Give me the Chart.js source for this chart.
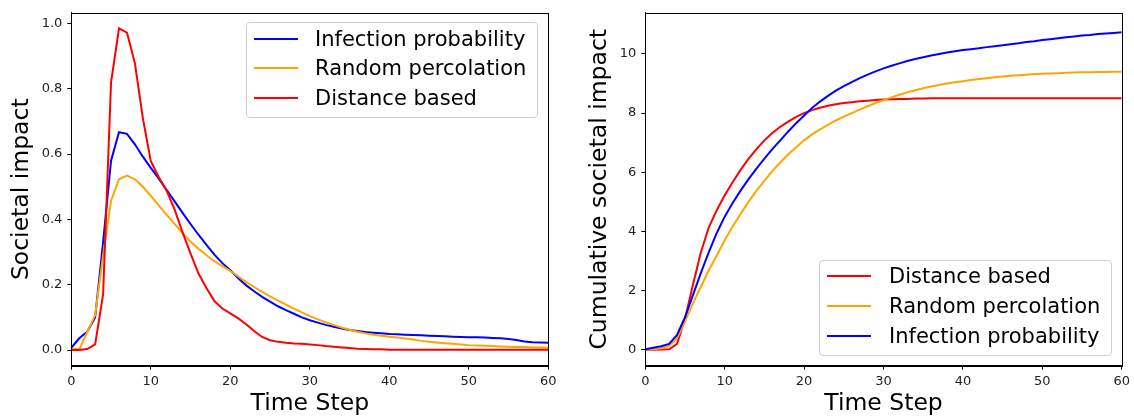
<!DOCTYPE html>
<html><head><meta charset="utf-8">
<script src="https://cdn.jsdelivr.net/npm/chart.js@4/dist/chart.umd.min.js"></script>
<style>
html,body{margin:0;padding:0;background:#fff;}
body{width:1134px;height:420px;overflow:hidden;position:relative;font-family:"DejaVu Sans",sans-serif;}
canvas{position:absolute;top:0;}
.legend{position:absolute;background:rgba(255,255,255,0.8);border:1px solid #d0d0d0;border-radius:4px;box-sizing:border-box;font-family:"DejaVu Sans",sans-serif;font-size:21px;color:#000;}
.row{position:absolute;left:0;right:0;height:30px;}
.sw{position:absolute;height:2px;top:14px;}
.lbl{position:absolute;top:0;line-height:30px;white-space:nowrap;}
</style>
</head><body>
<canvas id="c1" width="567" height="420" style="left:0px"></canvas>
<canvas id="c2" width="567" height="420" style="left:567px"></canvas>
<script>
const steps = [0,1,2,3,4,5,6,7,8,9,10,11,12,13,14,15,16,17,18,19,20,21,22,23,24,25,26,27,28,29,30,31,32,33,34,35,36,37,38,39,40,41,42,43,44,45,46,47,48,49,50,51,52,53,54,55,56,57,58,59,60];
const xTicks = [0,10,20,30,40,50,60];
const yTicksLeft = [0,0.2,0.4,0.6,0.8,1.0];
const yTicksRight = [0,2,4,6,8,10];

const impactInfection = [0.007,0.036,0.056,0.100,0.330,0.580,0.667,0.662,0.630,0.592,
 0.558,0.525,0.490,0.455,0.420,0.386,0.353,0.322,0.292,0.266,
 0.244,0.220,0.198,0.180,0.163,0.148,0.134,0.122,0.111,0.100,
 0.091,0.084,0.077,0.071,0.066,0.061,0.058,0.055,0.053,0.051,
 0.049,0.048,0.047,0.046,0.045,0.044,0.043,0.042,0.041,0.040,
 0.039,0.039,0.038,0.037,0.036,0.034,0.031,0.026,0.024,0.023,0.022];
const impactRandom = [0.004,0.002,0.055,0.107,0.290,0.457,0.523,0.534,0.523,0.500,
 0.472,0.443,0.414,0.386,0.358,0.332,0.310,0.290,0.272,0.257,
 0.242,0.225,0.208,0.193,0.178,0.164,0.151,0.139,0.127,0.115,
 0.104,0.094,0.085,0.077,0.069,0.062,0.056,0.051,0.047,0.044,
 0.041,0.038,0.035,0.032,0.028,0.025,0.023,0.021,0.019,0.017,
 0.015,0.014,0.013,0.012,0.011,0.010,0.009,0.009,0.008,0.008,0.007];
const impactDistance = [0,0,0.003,0.017,0.170,0.820,0.985,0.972,0.878,0.710,
 0.578,0.530,0.487,0.430,0.360,0.295,0.234,0.190,0.150,0.127,
 0.112,0.097,0.079,0.058,0.040,0.030,0.025,0.022,0.020,0.019,
 0.017,0.015,0.012,0.010,0.008,0.006,0.004,0.003,0.002,0.002,
 0.001,0.001,0.001,0.001,0.001,0.001,0.001,0.001,0.001,0.001,
 0.001,0.001,0.001,0.001,0.001,0.001,0.001,0.001,0.001,0.001,0.001];

const cumInfection = [0.02,0.07,0.12,0.20,0.50,1.10,1.85,2.60,3.30,3.95,
 4.50,4.96,5.38,5.77,6.12,6.46,6.78,7.08,7.38,7.66,
 7.92,8.17,8.39,8.58,8.76,8.91,9.05,9.18,9.30,9.41,
 9.51,9.60,9.68,9.76,9.83,9.89,9.95,10.00,10.05,10.09,
 10.13,10.16,10.19,10.23,10.26,10.29,10.33,10.36,10.40,10.43,
 10.47,10.50,10.53,10.56,10.59,10.62,10.64,10.67,10.69,10.71,10.73];
const cumRandom = [0,0.02,0.05,0.13,0.39,0.95,1.57,2.13,2.69,3.19,
 3.70,4.17,4.59,5.00,5.38,5.71,6.05,6.33,6.61,6.85,
 7.08,7.28,7.45,7.60,7.75,7.88,8.00,8.12,8.23,8.34,
 8.44,8.53,8.62,8.70,8.77,8.84,8.90,8.95,9.00,9.04,
 9.08,9.12,9.15,9.18,9.21,9.24,9.26,9.28,9.30,9.32,
 9.33,9.34,9.35,9.36,9.37,9.38,9.38,9.39,9.39,9.40,9.40];
const cumDistance = [0,0,0.01,0.02,0.20,1.05,2.20,3.30,4.14,4.72,
 5.22,5.66,6.08,6.45,6.78,7.08,7.33,7.54,7.71,7.87,
 8.00,8.10,8.18,8.25,8.30,8.34,8.37,8.40,8.42,8.44,
 8.46,8.47,8.48,8.48,8.49,8.49,8.50,8.50,8.50,8.50,
 8.50,8.50,8.50,8.50,8.50,8.50,8.50,8.50,8.50,8.50,
 8.50,8.50,8.50,8.50,8.50,8.50,8.50,8.50,8.50,8.50,8.50];

const labelInfection = 'Infection probability';
const labelRandom = 'Random percolation';
const labelDistance = 'Distance based';
const colInfection = '#0000ff', colRandom = '#ffa500', colDistance = '#ff0000';

const FONT = 'DejaVu Sans';

function ds(label, vals, color, order) {
  return { label, data: steps.map((t, i) => ({ x: t, y: vals[i] })), borderColor: color,
    backgroundColor: color, borderWidth: 2, pointRadius: 0, tension: 0, fill: false, order };
}

const framePlugin = {
  id: 'frame',
  afterDraw(chart) {
    const { ctx, chartArea: a } = chart;
    ctx.save();
    ctx.strokeStyle = '#000';
    ctx.lineWidth = 1;
    ctx.strokeRect(Math.round(a.left) + 0.5, Math.round(a.top) + 0.5,
      Math.round(a.right) - Math.round(a.left), Math.round(a.bottom) - Math.round(a.top));
    ctx.restore();
  }
};

function makeChart(id, datasets, yMin, yMax, yTicks, fmt, yTitle, yAxisWidth, padRight, yTitlePad) {
  const tickFont = { family: FONT, size: 13 };
  const titleFont = { family: FONT, size: 23.5 };
  const grid = { drawOnChartArea: false, drawTicks: true, tickLength: 4, color: '#000', tickColor: '#000' };
  return new Chart(document.getElementById(id), {
    type: 'line',
    data: { datasets },
    plugins: [framePlugin],
    options: {
      responsive: false, animation: false, devicePixelRatio: 1,
      layout: { padding: { left: 0, right: padRight, top: 11, bottom: 0 } },
      plugins: { legend: { display: false }, tooltip: { enabled: false } },
      scales: {
        x: {
          type: 'linear', min: 0, max: 60,
          afterBuildTicks: s => { s.ticks = xTicks.map(v => ({ value: v })); },
          afterFit: s => { s.height = 54.3; },
          ticks: { font: tickFont, color: '#222', padding: 4, maxRotation: 0, callback: v => String(v) },
          grid, border: { display: true, color: '#000', width: 1 },
          title: { display: true, text: 'Time Step', font: titleFont, color: '#000', padding: { top: 0, bottom: 2 } }
        },
        y: {
          type: 'linear', min: yMin, max: yMax,
          afterBuildTicks: s => { s.ticks = yTicks.map(v => ({ value: v })); },
          afterFit: s => { s.width = yAxisWidth; },
          ticks: { font: tickFont, color: '#222', padding: 5, callback: v => fmt(v) },
          grid, border: { display: true, color: '#000', width: 1 },
          title: { display: true, text: yTitle, font: titleFont, color: '#000', padding: { top: yTitlePad, bottom: 0 } }
        }
      }
    }
  });
}

makeChart('c1', [
  ds(labelInfection, impactInfection, colInfection, 2),
  ds(labelRandom, impactRandom, colRandom, 1),
  ds(labelDistance, impactDistance, colDistance, 0)
], -0.048, 1.0326, yTicksLeft, v => v.toFixed(1), 'Societal impact', 71.3, 18.7, 8);

makeChart('c2', [
  ds(labelDistance, cumDistance, colDistance, 2),
  ds(labelRandom, cumRandom, colRandom, 1),
  ds(labelInfection, cumInfection, colInfection, 0)
], -0.537, 11.39, yTicksRight, v => String(Math.round(v)), 'Cumulative societal impact', 78.3, 11.3, 19);

function legend(left, top, width, height, rows, rowTops, swLeft, swWidth, textLeft) {
  const box = document.createElement('div');
  box.className = 'legend';
  Object.assign(box.style, { left: left + 'px', top: top + 'px', width: width + 'px', height: height + 'px' });
  rows.forEach((r, i) => {
    const row = document.createElement('div');
    row.className = 'row';
    row.style.top = rowTops[i] + 'px';
    const sw = document.createElement('span');
    sw.className = 'sw';
    Object.assign(sw.style, { left: swLeft + 'px', width: swWidth + 'px', background: r[1] });
    const lb = document.createElement('span');
    lb.className = 'lbl';
    lb.style.left = textLeft + 'px';
    lb.textContent = r[0];
    row.appendChild(sw); row.appendChild(lb);
    box.appendChild(row);
  });
  document.body.appendChild(box);
}

legend(246, 22, 292, 96,
  [[labelInfection, colInfection], [labelRandom, colRandom], [labelDistance, colDistance]],
  [1, 30, 60], 7, 44, 68);
legend(819, 260, 293, 96,
  [[labelDistance, colDistance], [labelRandom, colRandom], [labelInfection, colInfection]],
  [0, 30, 60], 7, 44, 69);
</script>
</body></html>
